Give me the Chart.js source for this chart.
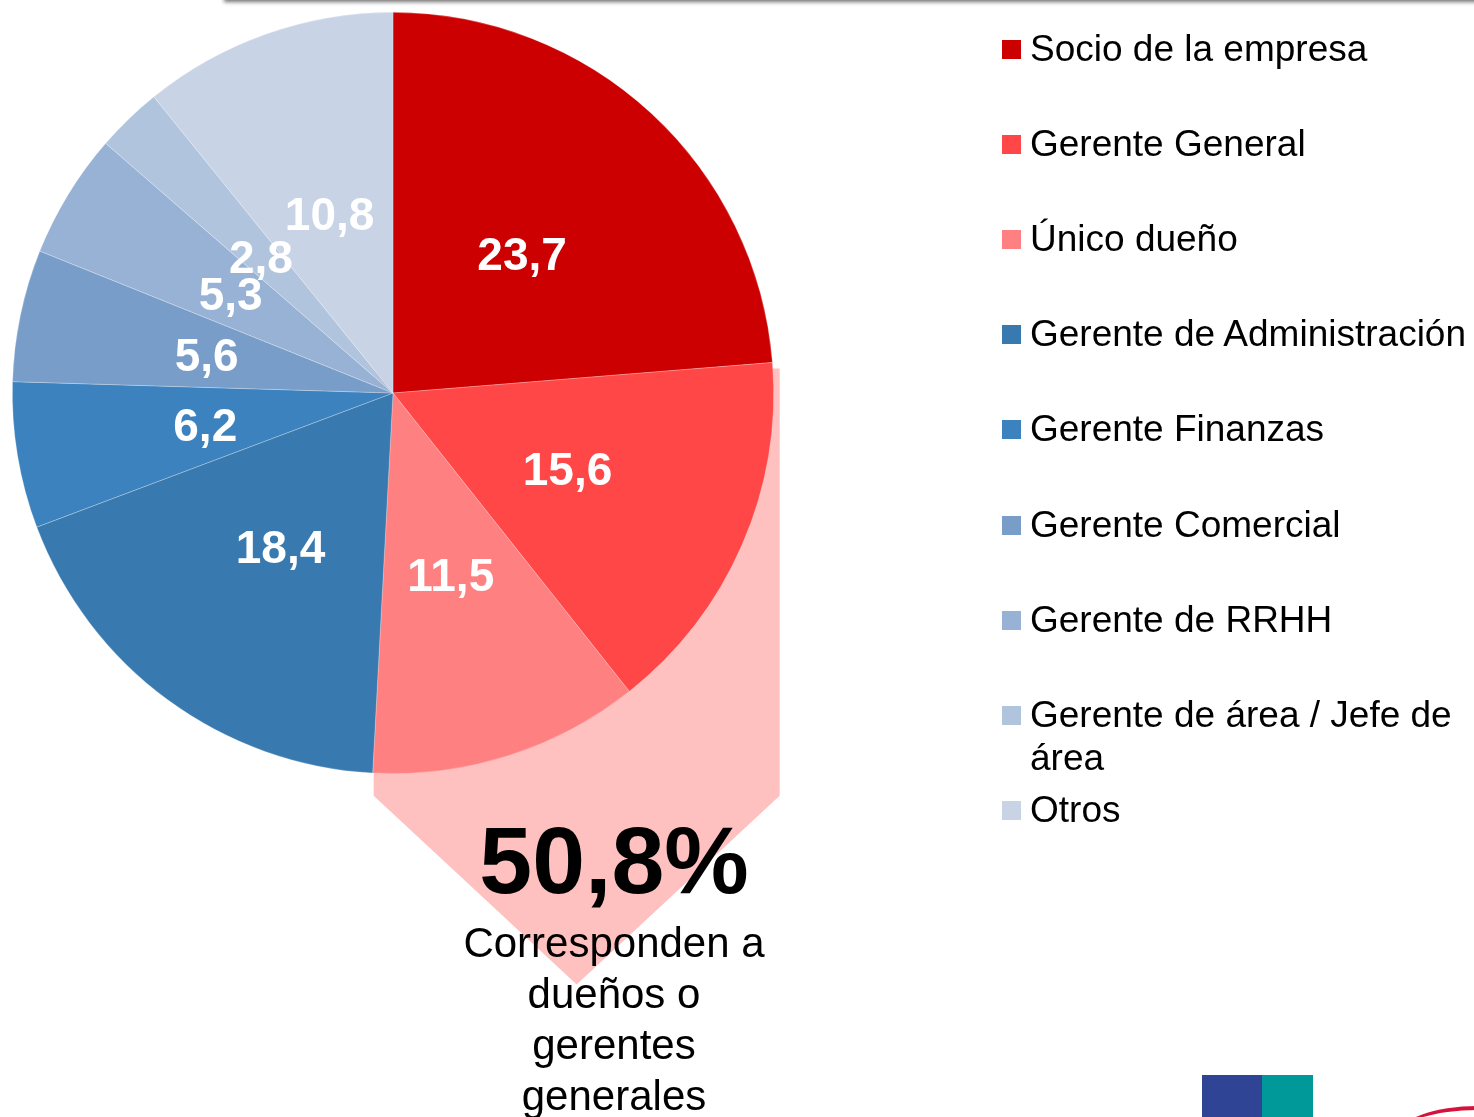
<!DOCTYPE html>
<html lang="es">
<head>
<meta charset="utf-8">
<title>Cargo del encuestado</title>
<script src="https://cdn.jsdelivr.net/npm/chart.js@4.4.1/dist/chart.umd.min.js"></script>
<style>
  html, body { margin: 0; padding: 0; background: #fff; overflow: hidden; }
  body { font-family: "Liberation Sans", Arial, sans-serif; }
  #stage { position: relative; width: 1474px; height: 1117px; }
  #stage canvas { position: absolute; left: 0; top: 0; }
  .title-edge {
    position: absolute; left: 224px; top: -20px; width: 1300px; height: 20px;
    background: #fff; box-shadow: 0 2px 4px rgba(0, 0, 0, 0.55);
  }
  #legend { position: absolute; left: 1002px; top: 0; width: 472px; }
  .legend-item { position: absolute; left: 0; width: 472px; }
  .legend-box { position: absolute; left: 0; top: 13px; width: 19px; height: 19px; }
  .legend-text {
    position: absolute; left: 28px; top: 0; width: 444px;
    font-size: 37px; line-height: 43px; color: #000;
  }
  #callout {
    position: absolute; left: 454px; top: 810px; width: 320px; text-align: center; color: #000;
  }
  #callout .big { font-weight: bold; font-size: 95px; line-height: 100px; }
  #callout .small { font-size: 42px; line-height: 51px; margin-top: 7px; }
  .logo-a { position: absolute; left: 1202px; top: 1075px; width: 60px; height: 42px; background: #2f4494; }
  .logo-b { position: absolute; left: 1262px; top: 1075px; width: 51px; height: 42px; background: #00999a; }
  .logo-c {
    position: absolute; left: 1398px; top: 1106px; width: 160px; height: 60px;
    border-radius: 50%; border-top: 4px solid #d3133c; box-sizing: border-box;
  }
</style>
</head>
<body>
<div id="stage">
  <canvas id="chartCargo" width="1474" height="1117"></canvas>
  <div class="title-edge"></div>
  <div id="legend"></div>
  <div id="callout">
    <div class="big" id="calloutValue"></div>
    <div class="small">Corresponden a dueños o gerentes generales</div>
  </div>
  <div class="logo-a"></div>
  <div class="logo-b"></div>
  <div class="logo-c"></div>
</div>
<script>
  // categories, values (%) and slice colours
  const categories = [
    "Socio de la empresa",
    "Gerente General",
    "Único dueño",
    "Gerente de Administración",
    "Gerente Finanzas",
    "Gerente Comercial",
    "Gerente de RRHH",
    "Gerente de área / Jefe de área",
    "Otros",
  ];
  const values = [23.7, 15.6, 11.5, 18.4, 6.2, 5.6, 5.3, 2.8, 10.8];
  const colors = [
    "#cc0000", "#ff4747", "#ff8080",
    "#387aaf", "#3b82be", "#789dc9", "#98b2d5", "#b1c4de", "#c8d3e6",
  ];
  // first three slices = owners / general managers
  const ownerCount = 3;
  const calloutFill = "#ffc0c0";

  function fmt(v) {
    return String(Math.round(v * 10) / 10).replace(".", ",");
  }

  (function () {
    const canvas = document.getElementById("chartCargo");
    if (!canvas || typeof Chart === "undefined") return;

    // pink arrow behind the owner slices
    const calloutArrow = {
      id: "calloutArrow",
      beforeDatasetsDraw(chart) {
        const arcs = chart.getDatasetMeta(0).data;
        if (!arcs.length) return;
        const a0 = arcs[0], aEnd = arcs[ownerCount - 1];
        const cx = a0.x, cy = a0.y, r = a0.outerRadius;
        const xL = cx + r * Math.cos(aEnd.endAngle) + 1;
        const yT = cy + r * Math.sin(a0.endAngle) + 6;
        const xR = cx + r + 6;
        const yB = cy + r + 22;
        const tipY = yB + ((xR - xL) / 2) * 0.93;
        const ctx = chart.ctx;
        ctx.save();
        ctx.fillStyle = calloutFill;
        ctx.beginPath();
        ctx.moveTo(xL, yT);
        ctx.lineTo(xR, yT);
        ctx.lineTo(xR, yB);
        ctx.lineTo((xL + xR) / 2, tipY);
        ctx.lineTo(xL, yB);
        ctx.closePath();
        ctx.fill();
        ctx.restore();
      },
    };

    // value labels inside each slice
    const sliceLabels = {
      id: "sliceLabels",
      afterDatasetsDraw(chart) {
        const ctx = chart.ctx;
        const meta = chart.getDatasetMeta(0);
        ctx.save();
        ctx.font = "bold 46px 'Liberation Sans', Arial, sans-serif";
        ctx.fillStyle = "#ffffff";
        ctx.textAlign = "center";
        ctx.textBaseline = "alphabetic";
        meta.data.forEach((arc, i) => {
          const p = arc.tooltipPosition();
          ctx.fillText(fmt(values[i]), p.x, p.y + 16.5);
        });
        ctx.restore();
      },
    };

    new Chart(canvas, {
      type: "pie",
      data: {
        labels: categories,
        datasets: [
          {
            data: values,
            backgroundColor: colors,
            borderColor: "rgba(255,255,255,0.35)",
            borderWidth: 0.7,
          },
        ],
      },
      options: {
        responsive: false,
        animation: false,
        layout: { padding: { left: 12, top: 12, right: 700, bottom: 343 } },
        plugins: {
          legend: { display: false },
          tooltip: { enabled: false },
        },
      },
      plugins: [calloutArrow, sliceLabels],
    });
  })();

  // legend on the right
  (function () {
    const legend = document.getElementById("legend");
    const slot = 95.2;
    categories.forEach((name, i) => {
      const item = document.createElement("div");
      item.className = "legend-item";
      item.style.top = (48 + i * slot - 21.5) + "px";
      const box = document.createElement("div");
      box.className = "legend-box";
      box.style.background = colors[i];
      const text = document.createElement("div");
      text.className = "legend-text";
      text.textContent = name;
      item.appendChild(box);
      item.appendChild(text);
      legend.appendChild(item);
    });

    const total = values.slice(0, ownerCount).reduce((a, b) => a + b, 0);
    document.getElementById("calloutValue").textContent = fmt(total) + "%";
  })();
</script>
</body>
</html>
